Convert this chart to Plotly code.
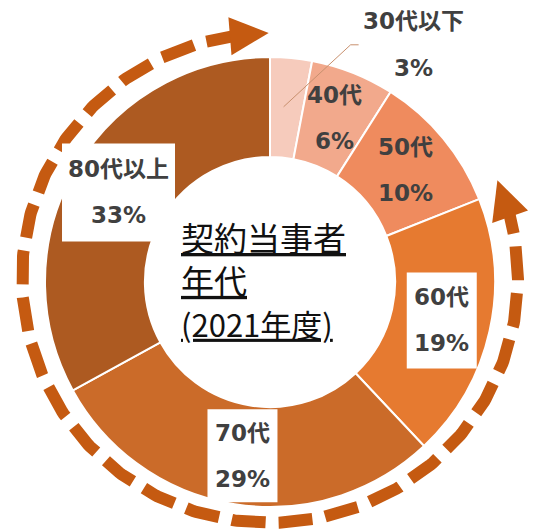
import math
import plotly.graph_objects as go

# ---- data ----
categories = ["30代以下", "40代", "50代", "60代", "70代", "80代以上"]
shares = [3, 6, 10, 19, 29, 33]
value_labels = ["3%", "6%", "10%", "19%", "29%", "33%"]
colors = ["#F6CBBC", "#F2A98C", "#EF8B5E", "#E67A30", "#CB6B29", "#AD5A21"]
boxed = [False, False, False, True, True, True]
title_lines = ["契約当事者", "年代", "(2021年度)"]

W, H = 541, 532
CX, CY, R_OUT = 270, 282, 225
HOLE = 0.556
R_LABEL = 176
ARROW = "#C55A11"
TXT = "#404040"
FONT = "DejaVu Sans, Noto Sans CJK JP, sans-serif"
LSIZE = 23

fig = go.Figure()

# ---- donut ----
fig.add_trace(go.Pie(
    values=shares, labels=categories, sort=False, direction="clockwise", rotation=0,
    hole=HOLE, textinfo="none", hoverinfo="label+percent",
    marker=dict(colors=colors, line=dict(color="white", width=2)),
    domain=dict(x=[(CX - R_OUT) / W, (CX + R_OUT) / W],
                y=[(H - CY - R_OUT) / H, (H - CY + R_OUT) / H]),
    showlegend=False,
))

# ---- dashed double-headed arc ----
ECX, ECY, RX, RY = 270, 278, 248, 245
def ept(deg):
    t = math.radians(deg)
    return ECX + RX * math.cos(t), ECY - RY * math.sin(t)

th0, th1 = 97.0, 375.0
n = 400
xs, ys = [], []
for i in range(n + 1):
    d = th0 + (th1 - th0) * i / n
    x, y = ept(d)
    xs.append(x); ys.append(y)
fig.add_trace(go.Scatter(x=xs, y=ys, mode="lines", hoverinfo="skip", showlegend=False,
                         line=dict(color=ARROW, width=12, dash="34px,13px")))

def arrowhead(tip_deg, back_deg, half_w=19):
    tx, ty = ept(tip_deg)
    bx, by = ept(back_deg)
    dx, dy = tx - bx, ty - by
    L = math.hypot(dx, dy)
    nx, ny = -dy / L, dx / L
    p1 = (bx + nx * half_w, by + ny * half_w)
    p2 = (bx - nx * half_w, by - ny * half_w)
    return f"M {tx:.1f},{ty:.1f} L {p1[0]:.1f},{p1[1]:.1f} L {p2[0]:.1f},{p2[1]:.1f} Z"

shapes = [
    dict(type="path", path=arrowhead(90.3, 99.3), fillcolor=ARROW, line=dict(width=0),
         xref="x", yref="y", layer="above"),
    dict(type="path", path=arrowhead(23.5 + 360, 14.5 + 360), fillcolor=ARROW, line=dict(width=0),
         xref="x", yref="y", layer="above"),
]

# ---- labels ----
annotations = []
total = sum(shares)
cum = 0
box_sizes = {3: (70, 96), 4: (70, 93), 5: (113, 98)}
for i, (cat, v, vl) in enumerate(zip(categories, shares, value_labels)):
    mid = (cum + v / 2) / total * 2 * math.pi
    cum += v
    lx = CX + R_LABEL * math.sin(mid)
    ly = CY - R_LABEL * math.cos(mid)
    if i == 0:
        # outside label with leader line
        tx, ty = lx + 127, ly - 63
        shapes.append(dict(type="path",
                           path=f"M {lx-3:.1f},{ly:.1f} L {tx-63:.1f},{ly-62:.1f} L {tx-55:.1f},{ly-62:.1f}",
                           line=dict(color="#C8906E", width=1), xref="x", yref="y", layer="above"))
        annotations.append(dict(x=tx, y=ly - 86, text=f"<b>{cat}</b>", showarrow=False,
                                xref="x", yref="y", font=dict(family=FONT, size=LSIZE, color=TXT)))
        annotations.append(dict(x=tx, y=ly - 39, text=f"<b>{vl}</b>", showarrow=False,
                                xref="x", yref="y", font=dict(family=FONT, size=LSIZE, color=TXT)))
        continue
    if boxed[i]:
        bw, bh = box_sizes[i]
        shapes.append(dict(type="rect", x0=lx - bw / 2, x1=lx + bw / 2, y0=ly - bh / 2, y1=ly + bh / 2,
                           fillcolor="white", line=dict(width=0), xref="x", yref="y", layer="above"))
    annotations.append(dict(x=lx, y=ly - 23, text=f"<b>{cat}</b>", showarrow=False,
                            xref="x", yref="y", font=dict(family=FONT, size=LSIZE, color=TXT)))
    annotations.append(dict(x=lx, y=ly + 23, text=f"<b>{vl}</b>", showarrow=False,
                            xref="x", yref="y", font=dict(family=FONT, size=LSIZE, color=TXT)))

# ---- center title (one text block) ----
title_text = (f"<u>{title_lines[0]}</u><br><u>{title_lines[1]}</u><br>"
              f"<span style='font-size:31px'><u>{title_lines[2]}</u></span>")
annotations.append(dict(x=179, y=279, text=title_text, showarrow=False, xanchor="left",
                        yanchor="middle", align="left", xref="x", yref="y",
                        font=dict(family="Noto Sans CJK JP, sans-serif", size=33, color="#111111")))

fig.update_layout(
    width=W, height=H, margin=dict(l=0, r=0, t=0, b=0),
    paper_bgcolor="white", plot_bgcolor="rgba(0,0,0,0)",
    xaxis=dict(range=[0, W], visible=False, fixedrange=True),
    yaxis=dict(range=[H, 0], visible=False, fixedrange=True),
    shapes=shapes, annotations=annotations, showlegend=False,
)

fig.write_html("out.html", config={"displayModeBar": False},
               post_script="document.body.style.margin='0';document.body.style.padding='0';"
                           "document.documentElement.style.overflow='hidden';")
